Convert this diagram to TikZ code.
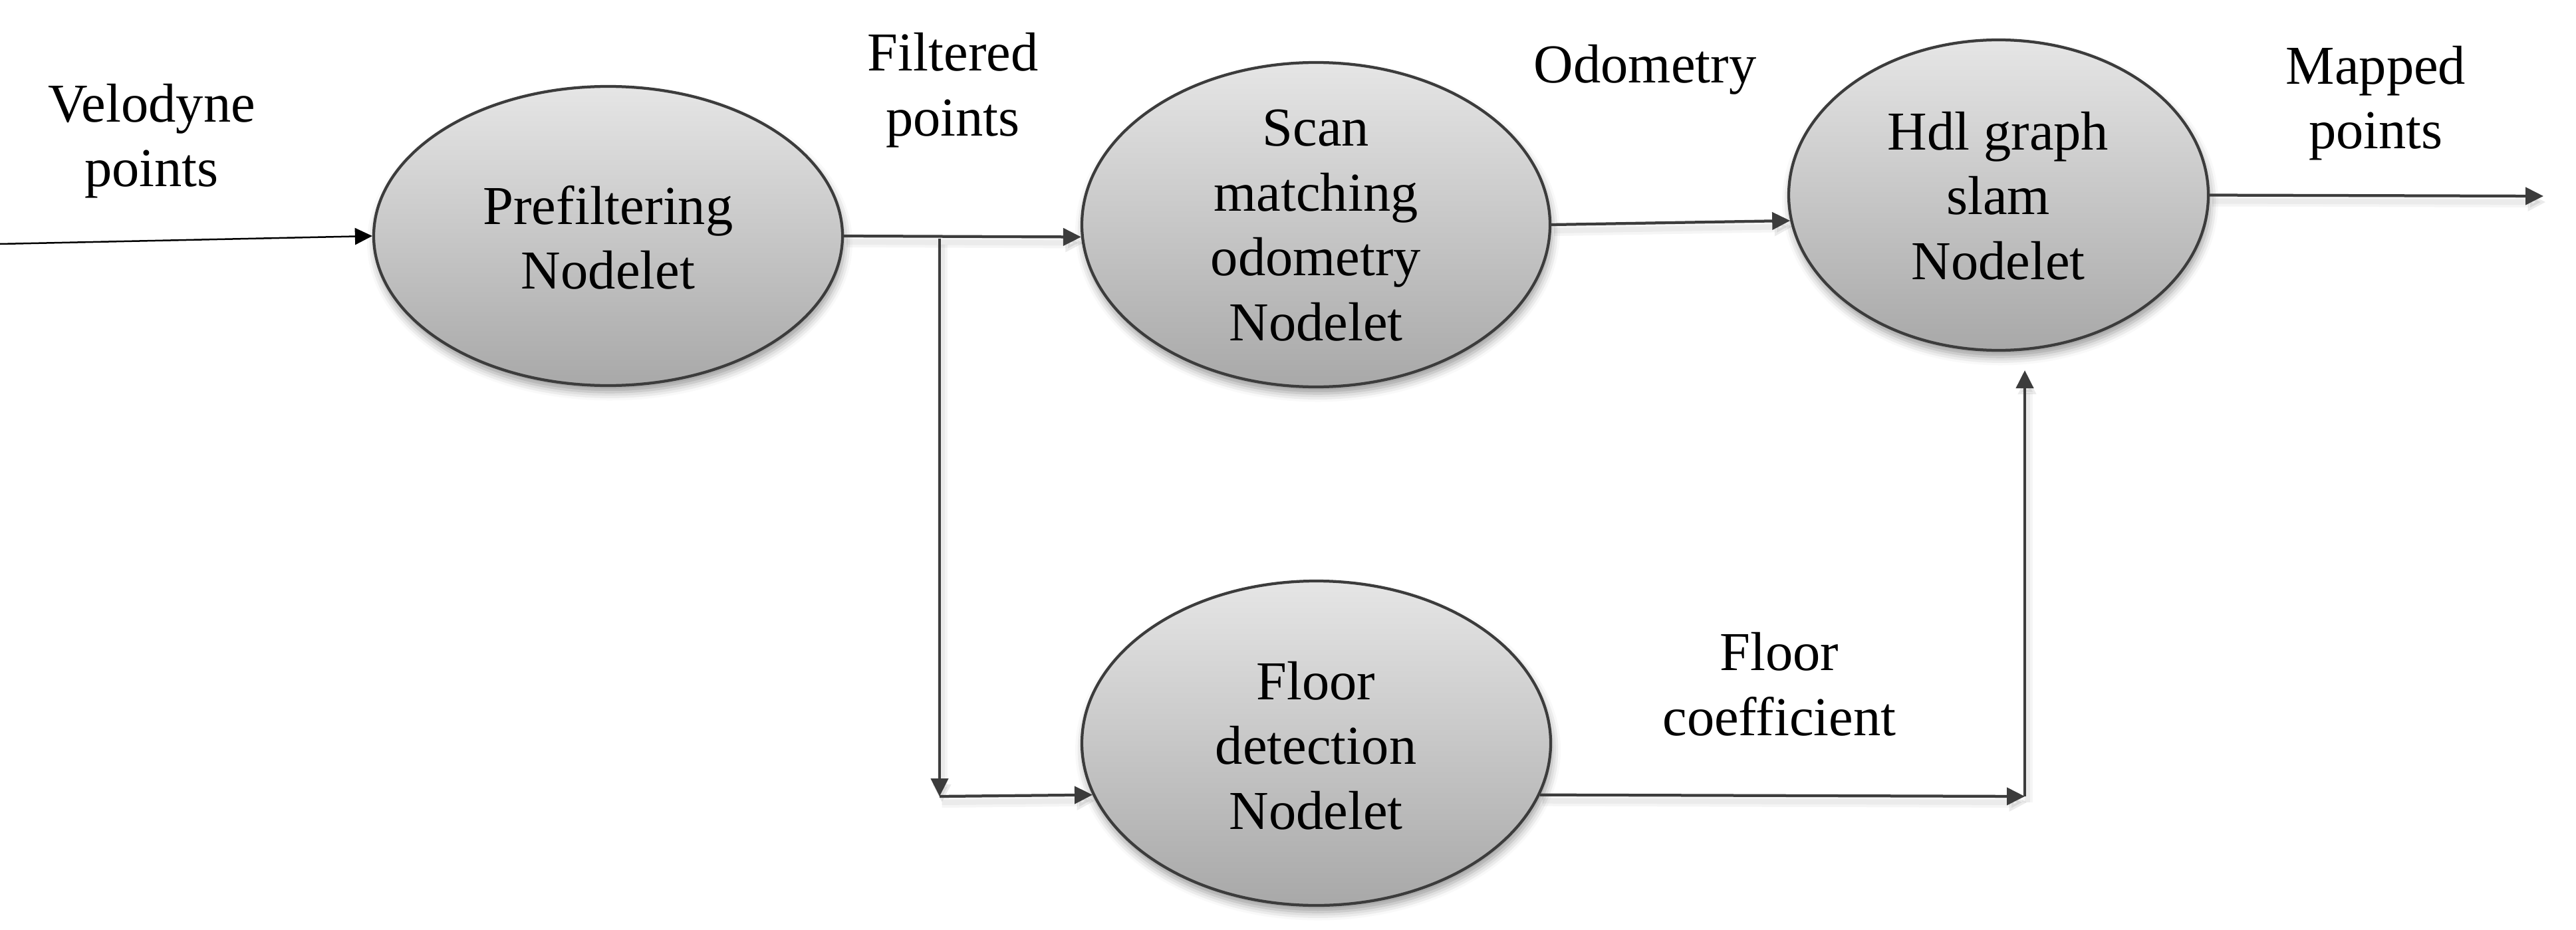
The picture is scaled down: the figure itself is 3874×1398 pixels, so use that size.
\documentclass[tikz,border=0pt]{standalone}
\usepackage{fontspec}
\setmainfont{Liberation Serif}
\usetikzlibrary{arrows.meta,shapes.geometric,shadows.blur}
\definecolor{linegray}{HTML}{3C3C3C}
\begin{document}
\begin{tikzpicture}[x=0.2pt,y=-0.2pt,
  proc/.style={ellipse, draw=linegray, line width=0.85pt, top color=black!10, bottom color=black!34, inner sep=0pt,
    blur shadow={shadow xshift=0.5pt, shadow yshift=-2pt, shadow blur radius=2.5pt, shadow opacity=40}},
  txt/.style={inner sep=0pt, align=center, font=\fontsize{16.5}{19.5}\selectfont},
  conn/.style={draw=linegray, line width=0.85pt, -{Triangle[length=5.4pt,width=5.2pt]},
    preaction={draw=black, opacity=0.04, line width=3.2pt, transform canvas={shift={(0.7pt,-1.8pt)}}},
    preaction={draw=black, opacity=0.04, line width=1.6pt, transform canvas={shift={(0.7pt,-1.8pt)}}}},
  inconn/.style={draw=black, line width=0.5pt, -{Triangle[length=5.2pt,width=5pt]}},
]
\useasboundingbox (0,0) rectangle (3874,1398);

% processes
\node[proc, minimum width=141pt, minimum height=90pt] (pre) at (914.5,355) {};
\node[proc, minimum width=140.8pt, minimum height=97.6pt] (scan) at (1979,338) {};
\node[proc, minimum width=126.2pt, minimum height=93.4pt] (hdl) at (3005.5,293.5) {};
\node[proc, minimum width=141pt, minimum height=97.6pt] (floor) at (1979.5,1118) {};

\node[txt] (pretext) at (914.5,357.5) {Prefiltering\\Nodelet};
\node[txt] (scantext) at (1979,339) {Scan\\matching\\odometry\\Nodelet};
\node[txt] (hdltext) at (3005,294.5) {Hdl graph\\slam\\Nodelet};
\node[txt] (floortext) at (1979,1121.5) {Floor\\detection\\Nodelet};

% labels
\node[txt] (lvel) at (228,212) {Velodyne\\points};
\node[txt] (lfilt) at (1433,135.5) {Filtered\\points};
\node[txt] (lodo) at (2474,105) {Odometry};
\node[txt] (lmap) at (3573,155) {Mapped\\points};
\node[txt] (lfc) at (2676,1029.5) {Floor\\coefficient};

% free ends and corners
\coordinate (in0) at (0,367);
\coordinate (j) at (1413,358.5);
\coordinate (c1) at (1413,1198);
\coordinate (c2) at (3045,1198);
\coordinate (c3) at (3045,557);
\coordinate (out) at (3825,295);

% connectors
\draw[inconn] (in0) -- (pre.west);
\draw[conn] (pre.east) -- (scan.183.9);
\draw[conn] (j) -- (c1);
\draw[conn] (c1) -- (floor.193.4);
\draw[conn] (floor.-13.4) -- (c2);
\draw[conn] (c2) -- (c3);
\draw[conn] (scan.east) -- (hdl.187.9);
\draw[conn] (hdl.east) -- (out);
\end{tikzpicture}
\end{document}
